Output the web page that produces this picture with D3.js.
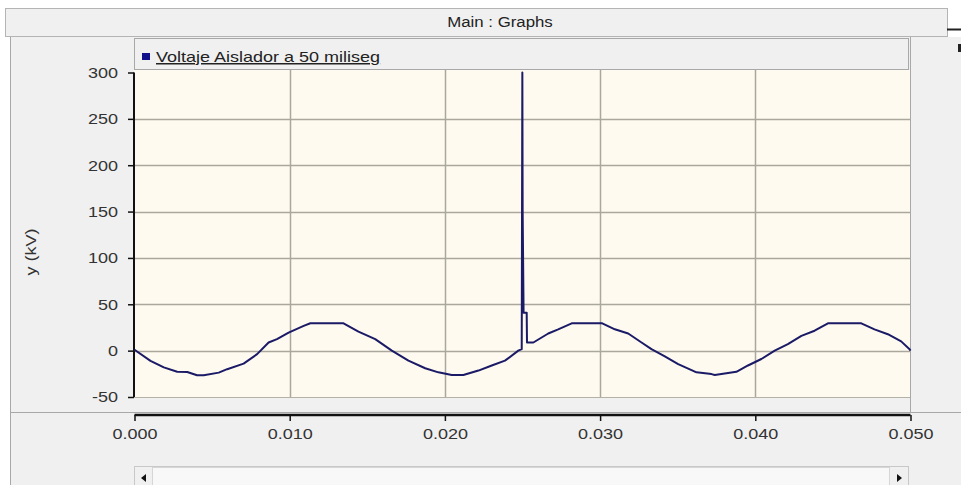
<!DOCTYPE html>
<html><head><meta charset="utf-8">
<script src="https://cdn.jsdelivr.net/npm/d3@7"></script>
<style>
html,body{margin:0;padding:0;background:#ffffff;}
svg{display:block;font-family:"Liberation Sans",Arial,sans-serif;}
</style></head>
<body>
<svg id="chart" width="961" height="485"></svg>
<script>
// ---- data ----
const title = "Main : Graphs";
const seriesName = "Voltaje Aislador a 50 miliseg";
const yLabel = "y (kV)";
const time = [0, 0.00103, 0.00189, 0.00275, 0.0034, 0.00403, 0.00446, 0.00543, 0.00597, 0.00703, 0.0079, 0.00864, 0.00918, 0.00993, 0.0109, 0.01133, 0.01347, 0.01443, 0.01551, 0.01658, 0.01765, 0.01873, 0.01958, 0.02044, 0.02119, 0.02216, 0.02302, 0.02387, 0.02473, 0.02495, 0.02499, 0.02501, 0.02507, 0.02527, 0.02529, 0.0257, 0.02666, 0.0273, 0.02817, 0.03014, 0.03095, 0.03181, 0.03267, 0.03331, 0.03417, 0.03503, 0.03589, 0.03621, 0.03718, 0.03739, 0.03878, 0.03953, 0.04039, 0.04125, 0.0421, 0.04297, 0.04382, 0.04468, 0.04683, 0.04768, 0.04854, 0.0494, 0.04994, 0.05];
const voltage = [1, -11, -18, -22.7, -23, -26.5, -26.5, -23.7, -20, -14, -3.8, 8.8, 12.4, 19.5, 26.7, 29.5, 29.5, 20.6, 12.4, 0, -10.8, -19, -23.4, -26.3, -26.3, -21.5, -16, -10.8, 0, 1.6, 300, 150, 41, 41, 8.8, 8.8, 18.5, 23, 29.5, 29.5, 23, 18.5, 8.8, 1.6, -6.2, -14.5, -21, -23.4, -25.3, -26.3, -22.8, -16, -9, 0, 7, 16, 21.5, 29.5, 29.5, 23, 17.7, 10, 1.6, 0];
const yTicks = [-50, 0, 50, 100, 150, 200, 250, 300];
const xTicks = [0, 0.01, 0.02, 0.03, 0.04, 0.05];

const svg = d3.select("#chart");
const stretch = 1.2;
function widen(sel){ sel.each(function(){ const w=this.getComputedTextLength(); d3.select(this).attr("textLength", w*stretch).attr("lengthAdjust","spacingAndGlyphs"); }); }

// window background
svg.append("rect").attr("x",10).attr("y",37).attr("width",951).attr("height",448).attr("fill","#f0f0f0");
svg.append("line").attr("x1",10.5).attr("x2",10.5).attr("y1",37).attr("y2",485).attr("stroke","#a8a8a8");
// title bar
svg.append("rect").attr("x",5.5).attr("y",8.5).attr("width",942).attr("height",28).attr("fill","#f0f0f0").attr("stroke","#b4b4b4");
svg.append("text").attr("x",500).attr("y",27).attr("text-anchor","middle").attr("font-size",14).attr("fill","#222").text(title).call(widen);
svg.append("rect").attr("x",947).attr("y",28.5).attr("width",14).attr("height",2).attr("fill","#222");
svg.append("rect").attr("x",958).attr("y",44).attr("width",3).attr("height",8).attr("fill","#222");

const x = d3.scaleLinear().domain([0,0.05]).range([134.5,910.5]);
const y = d3.scaleLinear().domain([-50,300]).range([397,72.5]);

// legend box
svg.append("rect").attr("x",134.5).attr("y",38.5).attr("width",774).attr("height",31).attr("fill","#f0f0f0").attr("stroke","#a8a8a8");
svg.append("rect").attr("x",142).attr("y",53).attr("width",8).attr("height",7).attr("fill","#10108a");
const lt = svg.append("text").attr("x",156).attr("y",62).attr("font-size",15).attr("fill","#222").attr("text-decoration","underline").text(seriesName);
lt.call(widen);

// plot area
svg.append("rect").attr("x",134).attr("y",70).attr("width",777).attr("height",327).attr("fill","#fefaef");
svg.append("line").attr("x1",910.5).attr("x2",910.5).attr("y1",37).attr("y2",413).attr("stroke","#a8a8a8");

// grid
const g = svg.append("g");
g.selectAll(".hg").data(yTicks.filter(d=>d>-50 && d<300)).join("line")
  .attr("x1",134).attr("x2",910).attr("y1",d=>Math.round(y(d))+0.5).attr("y2",d=>Math.round(y(d))+0.5)
  .attr("stroke","#aaa89c").attr("stroke-width",1.5);
g.selectAll(".vg").data(xTicks.filter(d=>d>0 && d<0.05)).join("line")
  .attr("y1",70).attr("y2",397).attr("x1",d=>Math.round(x(d))+0.5).attr("x2",d=>Math.round(x(d))+0.5)
  .attr("stroke","#aaa89c").attr("stroke-width",1.5);
svg.append("line").attr("x1",134).attr("x2",910).attr("y1",397.5).attr("y2",397.5).attr("stroke","#b4b2a6");

// y axis
const ya = svg.append("g").attr("transform","translate(134,0)")
  .call(d3.axisLeft(y).tickValues(yTicks).tickSize(6).tickPadding(10).tickFormat(d=>String(d)));
ya.select(".domain").attr("stroke","#111").attr("stroke-width",2).attr("d","M0,"+y(300)+"V"+y(-50));
ya.selectAll(".tick line").attr("stroke","#111").attr("stroke-width",1.5);
ya.selectAll("text").attr("font-size",15).attr("fill","#333").attr("font-family","Liberation Sans, Arial, sans-serif").call(widen);

// separator and x axis
svg.append("line").attr("x1",10).attr("x2",961).attr("y1",412.5).attr("y2",412.5).attr("stroke","#a8a8a8");
const xa = svg.append("g").attr("transform","translate(0,415)")
  .call(d3.axisBottom(x).tickValues(xTicks).tickSize(6).tickPadding(7).tickFormat(d=>d.toFixed(3)));
xa.select(".domain").attr("stroke","#111").attr("stroke-width",2.5).attr("d","M"+x(0)+",0H"+x(0.05));
xa.selectAll(".tick line").attr("stroke","#111").attr("stroke-width",1.5);
xa.selectAll("text").attr("font-size",15).attr("fill","#333").attr("font-family","Liberation Sans, Arial, sans-serif").call(widen);

// y label
svg.append("text").attr("transform","translate(36,252) rotate(-90)").attr("text-anchor","middle")
  .attr("font-size",15).attr("fill","#333").text(yLabel).call(widen);

// series line
const pts = time.map((t,i)=>[t,voltage[i]]);
svg.append("path").datum(pts)
  .attr("fill","none").attr("stroke","#1a1a66").attr("stroke-width",2).attr("stroke-linejoin","round")
  .attr("d", d3.line().x(d=>x(d[0])).y(d=>y(d[1])));

// scrollbar
svg.append("rect").attr("x",134.5).attr("y",466.5).attr("width",774).attr("height",25).attr("fill","#f0f0f0").attr("stroke","#c8c8c8");
svg.append("rect").attr("x",152.5).attr("y",467.5).attr("width",737).attr("height",24).attr("fill","#f8f8f8").attr("stroke","#d6d6d6");
svg.append("path").attr("d","M146,474L141,478L146,482Z").attr("fill","#111");
svg.append("path").attr("d","M897,474L902,478L897,482Z").attr("fill","#111");
</script>
</body></html>
